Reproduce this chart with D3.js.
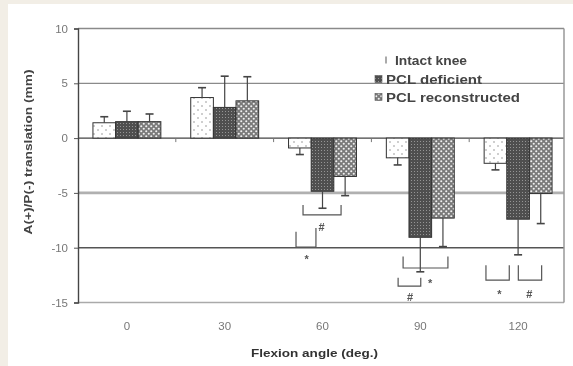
<!DOCTYPE html>
<html><head><meta charset="utf-8">
<script src="https://cdn.jsdelivr.net/npm/d3@7"></script>
<style>html,body{margin:0;padding:0;background:#f2eee6;} svg{display:block}</style>
</head><body><svg id="c" width="573" height="366"></svg>
<script>
// ---- data ----
const categories = ["0", "30", "60", "90", "120"];
const series = ["Intact knee", "PCL deficient", "PCL reconstructed"];
const intactMean = [1.4, 3.7, -0.9, -1.8, -2.3];
const intactSD = [0.55, 0.9, 0.6, 0.65, 0.6];
const deficientMean = [1.5, 2.8, -4.85, -9.05, -7.4];
const deficientSD = [0.95, 2.85, 1.55, 3.15, 3.25];
const reconMean = [1.5, 3.4, -3.5, -7.3, -5.05];
const reconSD = [0.7, 2.2, 1.75, 2.6, 2.75];
const yTicks = [10, 5, 0, -5, -10, -15];
// significance brackets: category, span in bar units within group, bottom value, top values
const brackets = [
  {cat: "60", x0: 0.64, x1: 2.32, yb: -7.0, yl: -6.1, yr: -6.1},
  {cat: "60", x0: 0.33, x1: 1.21, yb: -9.95, yl: -8.55, yr: -8.2},
  {cat: "90", x0: 0.74, x1: 2.72, yb: -11.85, yl: -10.8, yr: -10.8},
  {cat: "90", x0: 0.52, x1: 1.52, yb: -13.5, yl: -12.75, yr: -12.75},
  {cat: "120", x0: 0.08, x1: 1.11, yb: -12.95, yl: -11.6, yr: -11.6},
  {cat: "120", x0: 1.51, x1: 2.54, yb: -12.95, yl: -11.6, yr: -11.6}
];
const marks = [
  {cat: "60", x: 1.46, y: -8.1, t: "#"},
  {cat: "60", x: 0.8, y: -11.0, t: "*"},
  {cat: "90", x: 1.93, y: -13.2, t: "*"},
  {cat: "90", x: 1.05, y: -14.5, t: "#"},
  {cat: "120", x: 0.67, y: -14.2, t: "*"},
  {cat: "120", x: 1.99, y: -14.2, t: "#"}
];

const means = [intactMean, deficientMean, reconMean];
const sds = [intactSD, deficientSD, reconSD];
const rows = [];
categories.forEach((c, i) => series.forEach((s, j) => rows.push({cat: c, s, j, v: means[j][i], e: sds[j][i]})));

const svg = d3.select("#c");
const font = "'Liberation Sans', Arial, sans-serif";

// defs: patterns + blur
const defs = svg.append("defs");
defs.append("filter").attr("id", "soft").attr("x", "-5%").attr("y", "-5%").attr("width", "110%").attr("height", "110%")
  .append("feGaussianBlur").attr("stdDeviation", 0.5);

const p0 = defs.append("pattern").attr("id", "pat0").attr("patternUnits", "userSpaceOnUse").attr("width", 8).attr("height", 8);
p0.append("rect").attr("width", 8).attr("height", 8).attr("fill", "#fff");
p0.append("circle").attr("cx", 2).attr("cy", 2).attr("r", 0.75).attr("fill", "#888");
p0.append("circle").attr("cx", 6).attr("cy", 6).attr("r", 0.75).attr("fill", "#888");

const p1 = defs.append("pattern").attr("id", "pat1").attr("patternUnits", "userSpaceOnUse").attr("width", 3).attr("height", 3);
p1.append("rect").attr("width", 3).attr("height", 3).attr("fill", "#505050");
p1.append("rect").attr("x", 0).attr("y", 0).attr("width", 1).attr("height", 1).attr("fill", "#959595");

const p2 = defs.append("pattern").attr("id", "pat2").attr("patternUnits", "userSpaceOnUse").attr("width", 5).attr("height", 5);
p2.append("rect").attr("width", 5).attr("height", 5).attr("fill", "#7a7a7a");
p2.append("circle").attr("cx", 1.25).attr("cy", 1.25).attr("r", 1.05).attr("fill", "#f0f0f0");
p2.append("circle").attr("cx", 3.75).attr("cy", 3.75).attr("r", 1.05).attr("fill", "#f0f0f0");

// white panel
svg.append("rect").attr("x", 8).attr("y", 4).attr("width", 565).attr("height", 362).attr("fill", "#fff");

const g = svg.append("g").attr("filter", "url(#soft)");

const x = d3.scaleBand().domain(categories).range([78, 567]);
const y = d3.scaleLinear().domain([-15, 10]).range([302.5, 28.5]);
const x1 = d3.scaleBand().domain(series).range([0, x.bandwidth()]).paddingOuter(0.66);
const bw = x1.bandwidth();
const unitX = (cat, u) => x(cat) + x1(series[0]) + u * bw;

// gridlines
const gridStyle = {"10": ["#8a8a8a", 1.6], "5": ["#8a8a8a", 1.3], "0": ["#444", 1.3], "-5": ["#b0b0b0", 2.6], "-10": ["#555", 1.5], "-15": ["#aaa", 1.6]};
g.append("g").selectAll("line").data(yTicks).join("line")
  .attr("x1", 78).attr("x2", 564).attr("y1", d => y(d)).attr("y2", d => y(d))
  .attr("stroke", d => gridStyle[d][0]).attr("stroke-width", d => gridStyle[d][1]);
// right frame
g.append("line").attr("x1", 564).attr("x2", 564).attr("y1", y(10)).attr("y2", y(-15)).attr("stroke", "#999").attr("stroke-width", 1.5);

// y axis
const yAxis = g.append("g").attr("transform", "translate(78,0)")
  .call(d3.axisLeft(y).tickValues(yTicks).tickSize(4).tickPadding(6).tickFormat(d => String(d)));
yAxis.select(".domain").attr("stroke", "#444").attr("stroke-width", 1.4);
yAxis.selectAll(".tick line").attr("stroke", "#555");
yAxis.selectAll("text").attr("font-family", font).attr("font-size", 11.5).attr("fill", "#777");

// x axis: ticks at band boundaries on zero line
g.append("g").selectAll("line").data(categories.slice(1)).join("line")
  .attr("x1", d => x(d)).attr("x2", d => x(d)).attr("y1", y(0)).attr("y2", y(0) + 4)
  .attr("stroke", "#777").attr("stroke-width", 1);
g.append("g").selectAll("text").data(categories).join("text")
  .attr("x", d => x(d) + x.bandwidth() / 2).attr("y", 330)
  .attr("text-anchor", "middle").attr("font-family", font).attr("font-size", 11.5).attr("fill", "#777")
  .text(d => d);

// bars
g.append("g").selectAll("rect").data(rows).join("rect")
  .attr("x", d => x(d.cat) + x1(d.s)).attr("width", bw)
  .attr("y", d => y(Math.max(0, d.v))).attr("height", d => Math.abs(y(d.v) - y(0)))
  .attr("fill", d => `url(#pat${d.j})`).attr("stroke", "#333").attr("stroke-width", 1);

// error bars (one-sided, away from zero)
const eb = g.append("g").attr("stroke", "#444").attr("stroke-width", 1.2);
eb.selectAll("line.v").data(rows).join("line").attr("class", "v")
  .attr("x1", d => x(d.cat) + x1(d.s) + bw / 2).attr("x2", d => x(d.cat) + x1(d.s) + bw / 2)
  .attr("y1", d => y(d.v)).attr("y2", d => y(d.v + Math.sign(d.v) * d.e));
eb.selectAll("line.c").data(rows).join("line").attr("class", "c")
  .attr("x1", d => x(d.cat) + x1(d.s) + bw / 2 - 4).attr("x2", d => x(d.cat) + x1(d.s) + bw / 2 + 4)
  .attr("y1", d => y(d.v + Math.sign(d.v) * d.e)).attr("y2", d => y(d.v + Math.sign(d.v) * d.e))
  .attr("stroke-width", 1.6);

// brackets
g.append("g").selectAll("path").data(brackets).join("path")
  .attr("d", d => `M${unitX(d.cat, d.x0)},${y(d.yl)}V${y(d.yb)}H${unitX(d.cat, d.x1)}V${y(d.yr)}`)
  .attr("fill", "none").attr("stroke", "#555").attr("stroke-width", 1.2);
g.append("g").selectAll("text").data(marks).join("text")
  .attr("x", d => unitX(d.cat, d.x)).attr("y", d => y(d.y) + 4)
  .attr("text-anchor", "middle").attr("font-family", font).attr("font-size", 11).attr("font-weight", "bold").attr("fill", "#555")
  .text(d => d.t);

// legend
const lg = g.append("g");
const legY = [60, 79, 97];
const legLen = [72, 96, 134];
series.forEach((s, j) => {
  lg.append("rect").attr("x", j === 0 ? 385 : 375).attr("y", legY[j] - 3.5).attr("width", j === 0 ? 2 : 7).attr("height", 7)
    .attr("fill", j === 0 ? "#aaa" : `url(#pat${j})`).attr("stroke", j === 0 ? "none" : "#555").attr("stroke-width", 0.6);
  lg.append("text").attr("x", j === 0 ? 395 : 386).attr("y", legY[j] + 4.5)
    .attr("font-family", font).attr("font-size", 12.5).attr("font-weight", "bold").attr("fill", "#444")
    .attr("textLength", legLen[j]).attr("lengthAdjust", "spacingAndGlyphs")
    .text(s);
});

// axis titles
g.append("text").attr("x", 314.5).attr("y", 357).attr("text-anchor", "middle")
  .attr("font-family", font).attr("font-size", 11.5).attr("font-weight", "bold").attr("fill", "#333")
  .attr("textLength", 127).attr("lengthAdjust", "spacingAndGlyphs")
  .text("Flexion angle (deg.)");
g.append("text").attr("transform", "translate(32,152) rotate(-90)").attr("text-anchor", "middle")
  .attr("font-family", font).attr("font-size", 11).attr("font-weight", "bold").attr("fill", "#444")
  .attr("textLength", 165).attr("lengthAdjust", "spacingAndGlyphs")
  .text("A(+)/P(-) translation (mm)");
</script></body></html>
